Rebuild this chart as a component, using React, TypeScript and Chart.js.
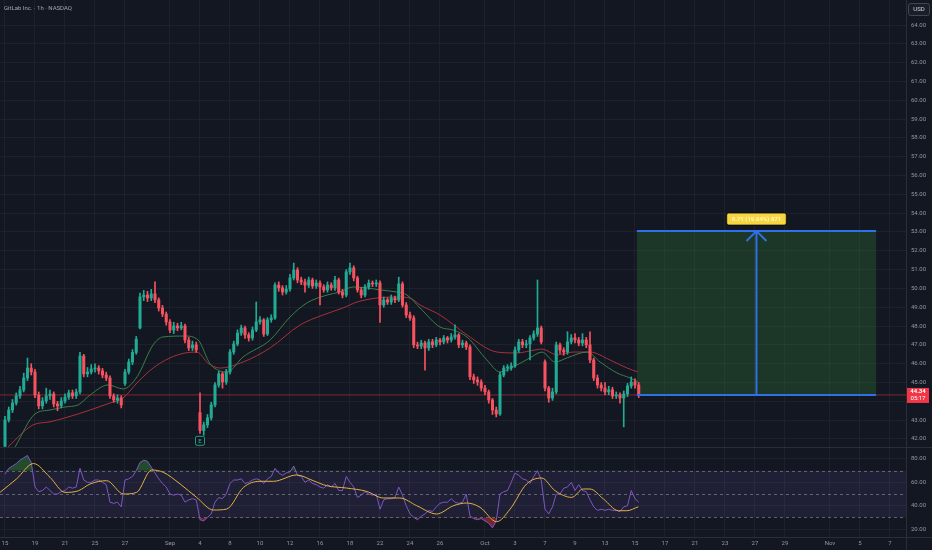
import { useEffect, useRef } from 'react';
import Chart from 'chart.js/auto';

// 1h candles, 4 per trading day, bar 0 = Aug 15
const opens = [41.62,43.01,43.54,43.91,44.29,44.61,45.24,45.77,45.56,44.34,
  43.76,44.02,44.29,44.39,43.86,43.76,44.02,44.23,44.45,44.29,
  44.50,46.41,45.46,45.56,45.72,45.77,45.62,45.40,45.24,44.29,
  44.07,44.18,44.95,45.56,46.09,46.60,47.90,49.55,49.65,49.49,
  49.71,49.39,48.96,48.64,48.22,47.79,48.01,47.90,48.01,47.26,
  46.84,47.00,43.40,42.45,42.75,43.12,43.81,44.87,45.46,45.03,
  45.56,46.62,47.05,47.63,47.90,47.53,47.37,47.79,48.22,48.33,
  47.58,48.33,48.43,50.18,50.03,49.81,49.97,50.56,50.98,50.45,
  50.34,50.18,50.45,50.13,50.29,50.08,49.92,50.18,50.03,50.45,
  49.81,49.65,50.88,51.09,50.56,49.92,49.65,50.08,50.29,50.24,
  50.29,49.12,49.39,49.28,49.49,49.39,50.24,49.12,48.59,48.43,
  47.00,46.94,47.10,46.84,47.16,47.00,47.26,47.16,47.37,47.26,
  47.42,47.53,47.00,47.10,46.89,45.30,45.14,45.03,44.71,44.50,
  44.07,43.54,43.33,45.40,45.77,45.77,45.88,46.73,47.16,47.00,
  47.05,47.37,47.58,47.90,46.10,44.71,44.18,44.50,47.00,46.73,
  46.62,47.16,47.37,47.26,47.10,47.26,47.00,46.20,45.24,44.87,
  44.71,44.50,44.61,44.29,44.34,44.18,44.39,44.82,45.03,44.87];

const highs = [43.20,43.70,44.10,44.45,44.80,45.50,46.30,46.00,45.70,44.50,
  44.20,44.70,44.60,44.50,44.00,44.20,44.40,44.60,44.60,44.65,
  46.60,46.50,45.80,45.95,46.00,45.90,45.75,45.55,45.35,44.40,
  44.35,44.30,45.70,46.25,46.75,47.45,49.75,49.90,49.85,49.95,
  50.35,49.50,49.10,48.75,48.35,48.20,48.15,48.20,48.10,47.40,
  47.20,47.15,44.45,42.90,43.30,43.95,45.00,45.60,45.55,45.70,
  46.75,47.20,47.80,48.05,48.00,47.65,47.95,49.28,48.50,48.40,
  48.45,48.60,50.30,50.35,50.15,50.15,50.75,51.35,51.10,50.60,
  50.50,50.60,50.55,50.45,50.40,50.20,50.35,50.30,50.65,50.55,
  49.95,51.00,51.35,51.20,50.65,50.05,50.20,50.45,50.40,50.45,
  50.40,49.55,49.50,49.65,49.60,50.60,50.35,49.25,48.75,48.55,
  47.15,47.25,47.20,47.30,47.30,47.40,47.35,47.50,47.45,47.60,
  48.06,47.60,47.25,47.20,47.00,45.45,45.30,45.15,44.85,44.60,
  44.15,43.70,45.55,45.90,45.95,46.05,46.90,47.30,47.30,47.25,
  47.50,47.75,50.45,48.00,46.20,44.80,44.70,47.15,47.10,46.85,
  47.70,47.55,47.60,47.40,47.60,47.40,47.70,46.30,45.40,45.00,
  45.00,44.80,44.75,44.50,44.45,44.55,44.95,45.30,45.20,45.00];

const lows = [41.50,42.90,43.40,43.80,44.15,44.50,45.10,45.40,44.20,43.60,
  43.60,43.90,44.10,43.70,43.50,43.65,43.90,44.10,44.15,44.15,
  44.40,45.30,45.30,45.45,45.55,45.45,45.25,45.10,44.15,43.95,
  43.90,43.65,44.85,45.45,45.95,46.50,47.85,49.35,49.30,49.35,
  49.25,48.80,48.50,48.05,47.65,47.60,47.75,47.80,47.10,46.70,
  46.70,46.60,42.30,42.20,42.60,43.00,43.70,44.75,44.70,44.90,
  45.45,46.50,46.95,47.50,47.35,47.20,47.25,47.70,48.10,47.45,
  47.50,48.20,48.35,49.85,49.65,49.70,49.85,50.45,50.30,50.20,
  49.80,50.05,50.00,50.00,49.12,49.80,49.80,49.90,49.90,49.70,
  49.50,49.55,50.75,50.40,49.80,49.50,49.55,49.95,50.10,50.10,
  48.20,49.00,49.15,49.15,49.25,49.30,49.00,48.45,48.30,46.85,
  46.80,46.80,45.65,46.70,46.85,46.90,47.00,47.05,47.10,47.15,
  47.30,46.85,46.85,46.75,45.15,44.95,44.85,44.55,44.35,43.90,
  43.30,43.17,43.25,45.30,45.60,45.65,45.80,46.60,46.85,46.85,
  46.20,47.25,47.45,47.05,44.55,43.95,44.05,44.40,46.55,46.45,
  46.50,47.05,47.10,46.95,46.95,46.85,46.05,45.10,44.70,44.55,
  44.35,44.35,44.15,44.15,43.90,42.64,44.25,44.70,44.70,44.20];

const closes = [43.01,43.54,43.91,44.29,44.61,45.24,45.77,45.56,44.34,43.76,
  44.02,44.29,44.39,43.86,43.76,44.02,44.23,44.45,44.29,44.50,
  46.41,45.46,45.56,45.72,45.77,45.62,45.40,45.24,44.29,44.07,
  44.18,43.81,45.56,46.09,46.60,47.30,49.55,49.65,49.49,49.71,
  49.39,48.96,48.64,48.22,47.79,48.01,47.90,48.01,47.26,46.84,
  47.00,46.73,42.45,42.75,43.12,43.81,44.87,45.46,45.03,45.56,
  46.62,47.05,47.63,47.90,47.53,47.37,47.79,48.22,48.33,47.58,
  48.33,48.43,50.18,50.03,49.81,49.97,50.56,50.98,50.45,50.34,
  50.18,50.45,50.13,50.29,50.08,49.92,50.18,50.03,50.45,49.81,
  49.65,50.88,51.09,50.56,49.92,49.65,50.08,50.29,50.24,50.29,
  49.12,49.39,49.28,49.49,49.39,50.24,49.12,48.59,48.43,47.00,
  46.94,47.10,46.84,47.16,47.00,47.26,47.16,47.37,47.26,47.42,
  47.53,47.00,47.10,46.89,45.30,45.14,45.03,44.71,44.50,44.07,
  43.54,43.33,45.40,45.77,45.77,45.88,46.73,47.16,47.00,47.05,
  47.37,47.58,47.90,47.16,44.71,44.18,44.50,47.00,46.73,46.62,
  47.16,47.37,47.26,47.10,47.26,47.00,46.20,45.24,44.87,44.71,
  44.50,44.61,44.29,44.34,44.18,44.39,44.82,45.03,44.87,44.34];

const rsiValues = [67,72,74,76,79,81,83,77,56,52,
  53,56,53,50,50,52,53,56,55,56,
  72,62,60,60,62,62,60,58,43,42,
  43,39,62,63,65,70,77,79,78,73,
  68,63,59,56,50,49,50,49,43,45,
  46,45,28,27,30,33,43,47,46,50,
  59,62,62,63,59,60,62,63,62,59,
  63,65,72,68,66,68,69,74,66,65,
  60,62,59,58,56,55,58,56,59,53,
  53,65,60,56,47,49,52,50,49,50,
  37,45,46,46,47,56,49,40,33,30,
  28,31,33,36,35,39,42,43,43,46,
  43,42,43,50,31,29,28,29,27,25,
  21,27,50,52,53,60,68,66,63,62,
  59,65,70,62,37,33,39,50,50,55,
  56,60,53,58,53,52,45,39,36,37,
  36,37,36,36,35,39,40,53,46,43];

// moving averages (bar position, value)
const greenMaBars = [2.7,8,12,16,19.5,22.7,27.5,31.5,35.2,39.5,42.1,48,51.5,54.7,57.3,59.2,63.5,70.7,76,80.5,85.9,89.3,92.8,96.5,100,104.5,107.2,110.7,116,119.5,123.2,128.5,132,135.5,140,143.2,146.7,149.9,155.2,158.7,163.2,166.7,168.8];
const greenMaValues = [41.58,43.33,43.54,43.70,43.81,44.34,44.87,44.66,45.30,47.00,47.42,47.47,47.26,45.99,45.62,45.56,46.36,47.26,48.48,49.23,49.65,49.81,50.08,50.03,49.92,49.81,49.65,48.96,47.95,47.79,47.42,46.20,45.56,45.83,46.31,46.62,46.09,46.31,46.62,46.09,45.51,45.24,45.03];
const redMaBars = [0.8,7.5,12,16,19.5,22.7,28,31.5,35.2,39.5,44,48,51.2,54.1,57.3,63.5,70.7,78.7,84.8,90.1,93.9,99.2,104.5,108,110.7,116,123.2,131.2,136.5,140,143.2,147.2,151.5,156,161.3,165.9,168.8];
const redMaValues = [41.58,42.75,42.91,43.12,43.33,43.54,43.91,44.18,44.98,45.77,46.31,46.57,46.62,46.04,45.77,46.09,46.84,48.06,48.59,48.96,49.28,49.49,49.55,49.49,49.12,48.59,47.53,46.62,46.57,46.68,46.78,46.47,46.62,46.62,46.20,45.77,45.56];
const rsiMaBars = [-1.3,3.1,7.6,12,16,19.6,22.7,27.1,31.6,35.1,39.1,42.2,46.7,51.1,55.6,59.1,63.6,68,71.6,77.8,82.2,85.8,91.1,96.4,100.9,105.3,109.8,115.1,119.6,123.1,126.7,131.1,134.7,139.1,143.1,146.7,151.1,154.2,156,159.6,163.6,165.8,168.9];
const rsiMaValues = [51.5,63,76.1,64.3,51.4,52.8,58.6,61.4,50,51.4,70.6,68.6,58.6,47.1,36.3,37.1,55.7,60.9,60.9,66.3,61.4,57.1,55.1,52.3,46.6,46.6,40,32.9,40,42.3,38.6,26.3,37.1,58.6,63.7,52.8,47.1,54.3,54.3,45.7,35.7,35.7,39.1];

const dateDays = [0,2,4,6,8,11,13,15,17,19,21,23,25,27,29,32,34,36,38,40,42,44,46,48,50,52,55,57,59];
const dateLabels = ['15','19','21','25','27','Sep','4','8','10','12','16','18','22','24','26','Oct','3','7','9','13','15','17','21','23','27','29','Nov','5','7'];
const priceTicks = [42,43,44,45,46,47,48,49,50,51,52,53,54,55,56,57,58,59,60,61,62,63,64];
const rsiTicks = [20,40,60,80];
const rsiLevels = [70,50,30];

const barsPerDay = 4;
const lastPrice = 44.34;
const countdown = '05:17';
const targetPrice = 53.05;
const targetLabel = '8.71 (19.64%) 871';
const targetStartBar = 168.5;
const targetEndBar = 232.3;
const earningsBar = 52;
const title = 'GitLab Inc. · 1h · NASDAQ';

const X_MIN = -1.33, X_MAX = 240.27;
const PRICE_MIN = 41.52, PRICE_MAX = 65.33;
const RSI_MIN = 13.2, RSI_MAX = 89.4;

const BG = '#131722';
const GRID = 'rgba(42,46,57,0.45)';
const AXIS_LINE = '#2a2e39';
const TEXT = '#9598a1';
const UP = '#22ab94';
const DOWN = '#f7525f';
const TAG_RED = '#f23645';
const BLUE = '#2f70e6';
const FONT = 'Roboto, "Noto Sans", sans-serif';

const idx = closes.map((_, i) => i);
const candleColors = idx.map(i => (closes[i] >= opens[i] ? UP : DOWN));
const dateTickValues = dateDays.map(d => d * barsPerDay);

const fitY = (s: any) => { s.width = 26; s.paddingTop = 0; s.paddingBottom = 0; };

const mainOverlay = {
  id: 'mainOverlay',
  beforeDatasetsDraw(chart: any) {
    const { ctx, scales: { x, y } } = chart;
    const x0 = x.getPixelForValue(targetStartBar), x1 = x.getPixelForValue(targetEndBar);
    const yT = y.getPixelForValue(targetPrice), yE = y.getPixelForValue(lastPrice);
    ctx.save();
    ctx.fillStyle = 'rgba(56,142,60,0.27)';
    ctx.fillRect(x0, yT, x1 - x0, yE - yT);
    ctx.restore();
  },
  afterDatasetsDraw(chart: any) {
    const { ctx, scales: { x, y } } = chart;
    const x0 = x.getPixelForValue(targetStartBar), x1 = x.getPixelForValue(targetEndBar);
    const xm = (x0 + x1) / 2;
    const yT = y.getPixelForValue(targetPrice), yE = y.getPixelForValue(lastPrice);
    ctx.save();
    ctx.strokeStyle = BLUE;
    ctx.lineWidth = 2;
    ctx.beginPath();
    ctx.moveTo(x0, yT); ctx.lineTo(x1, yT);
    ctx.moveTo(x0, yE); ctx.lineTo(x1, yE);
    ctx.moveTo(xm, yE); ctx.lineTo(xm, yT);
    ctx.moveTo(xm - 10, yT + 10); ctx.lineTo(xm, yT); ctx.lineTo(xm + 10, yT + 10);
    ctx.stroke();

    // target label
    ctx.font = `bold 6px ${FONT}`;
    const w = ctx.measureText(targetLabel).width + 10;
    ctx.fillStyle = '#f7d63e';
    ctx.strokeStyle = 'rgba(0,0,0,0.7)';
    ctx.lineWidth = 1;
    ctx.beginPath();
    ctx.roundRect(xm - w / 2, yT - 18, w, 12, 2);
    ctx.fill(); ctx.stroke();
    ctx.fillStyle = '#fff6c4';
    ctx.textAlign = 'center';
    ctx.textBaseline = 'middle';
    ctx.fillText(targetLabel, xm, yT - 12);

    // earnings marker
    const ex = x.getPixelForValue(earningsBar);
    const ey = y.getPixelForValue(lows[earningsBar]) + 3;
    ctx.fillStyle = BG;
    ctx.strokeStyle = '#1f9c84';
    ctx.beginPath();
    ctx.roundRect(ex - 4.5, ey, 9, 9, 1.5);
    ctx.fill(); ctx.stroke();
    ctx.fillStyle = '#2bb39a';
    ctx.font = `6px ${FONT}`;
    ctx.fillText('E', ex, ey + 5);
    ctx.restore();
  },
  afterDraw(chart: any) {
    const { ctx, scales: { y }, chartArea } = chart;
    ctx.save();
    ctx.font = `6px ${FONT}`;
    ctx.fillStyle = '#a3a6af';
    ctx.textAlign = 'left';
    ctx.textBaseline = 'middle';
    ctx.fillText(title, 4, 8);

    // axis line + pane separator
    ctx.strokeStyle = AXIS_LINE;
    ctx.lineWidth = 1;
    ctx.beginPath();
    ctx.moveTo(chartArea.right + 0.5, 0); ctx.lineTo(chartArea.right + 0.5, chart.height);
    ctx.moveTo(0, chart.height - 0.5); ctx.lineTo(chart.width, chart.height - 0.5);
    ctx.stroke();

    // currency box
    ctx.fillStyle = '#1a1e29';
    ctx.strokeStyle = '#434651';
    ctx.beginPath();
    ctx.roundRect(908.5, 3.5, 21, 12, 2);
    ctx.fill(); ctx.stroke();
    ctx.fillStyle = '#d1d4dc';
    ctx.textAlign = 'center';
    ctx.fillText('USD', 919, 9.8);

    // last price tag
    const py = y.getPixelForValue(lastPrice);
    ctx.fillStyle = TAG_RED;
    ctx.fillRect(907, py - 7, 22, 15);
    ctx.fillStyle = '#ffffff';
    ctx.font = `bold 6px ${FONT}`;
    ctx.fillText(lastPrice.toFixed(2), 918, py - 3);
    ctx.font = `6px ${FONT}`;
    ctx.fillText(countdown, 918, py + 4);
    ctx.restore();
  },
};

const rsiOverlay = {
  id: 'rsiOverlay',
  beforeDatasetsDraw(chart: any) {
    const { ctx, scales: { y }, chartArea } = chart;
    ctx.save();
    ctx.fillStyle = 'rgba(126,87,194,0.12)';
    const yTop = y.getPixelForValue(rsiLevels[0]);
    const yBot = y.getPixelForValue(rsiLevels[2]);
    ctx.fillRect(chartArea.left, yTop, chartArea.right - chartArea.left, yBot - yTop);
    ctx.strokeStyle = 'rgba(120,123,134,0.75)';
    ctx.lineWidth = 1;
    ctx.setLineDash([3, 3]);
    rsiLevels.forEach(v => {
      const yy = Math.round(y.getPixelForValue(v)) + 0.5;
      ctx.beginPath();
      ctx.moveTo(chartArea.left, yy);
      ctx.lineTo(chartArea.right, yy);
      ctx.stroke();
    });
    ctx.restore();
  },
  afterDraw(chart: any) {
    const { ctx, chartArea } = chart;
    ctx.save();
    ctx.strokeStyle = AXIS_LINE;
    ctx.lineWidth = 1;
    ctx.beginPath();
    ctx.moveTo(chartArea.right + 0.5, 0); ctx.lineTo(chartArea.right + 0.5, chart.height);
    ctx.moveTo(0, chartArea.bottom + 0.5); ctx.lineTo(chart.width, chartArea.bottom + 0.5);
    ctx.stroke();
    ctx.restore();
  },
};

const xBase = (showLabels: boolean) => ({
  type: 'linear',
  min: X_MIN,
  max: X_MAX,
  offset: false,
  afterBuildTicks: (s: any) => { s.ticks = dateTickValues.map(v => ({ value: v })); },
  afterFit: (s: any) => { s.height = showLabels ? 13 : 0; s.paddingLeft = 0; s.paddingRight = 0; },
  ticks: {
    display: showLabels,
    autoSkip: false,
    maxRotation: 0,
    padding: 3,
    color: TEXT,
    font: { family: FONT, size: 6 },
    callback: (_v: any, i: number) => dateLabels[i] ?? '',
  },
  grid: { color: GRID, drawTicks: false, offset: false },
  border: { display: false },
});

export default function App() {
  const mainRef = useRef<HTMLCanvasElement | null>(null);
  const rsiRef = useRef<HTMLCanvasElement | null>(null);

  useEffect(() => {
    let main: Chart | null = null;
    let rsi: Chart | null = null;

    if (mainRef.current) {
      main = new Chart(mainRef.current, {
        type: 'bar',
        data: {
          datasets: [
            {
              type: 'line',
              data: [{ x: X_MIN, y: lastPrice }, { x: X_MAX, y: lastPrice }],
              borderColor: 'rgba(242,54,69,0.5)',
              borderWidth: 1,
              pointRadius: 0,
              order: 5,
            },
            {
              type: 'line',
              data: redMaBars.map((b, k) => ({ x: b, y: redMaValues[k] })),
              borderColor: '#a8323b',
              borderWidth: 1,
              pointRadius: 0,
              cubicInterpolationMode: 'monotone',
              order: 4,
            },
            {
              type: 'line',
              data: greenMaBars.map((b, k) => ({ x: b, y: greenMaValues[k] })),
              borderColor: '#3a7f49',
              borderWidth: 1,
              pointRadius: 0,
              cubicInterpolationMode: 'monotone',
              order: 3,
            },
            {
              type: 'bar',
              data: idx.map(i => ({ x: i, y: [lows[i], highs[i]] })),
              backgroundColor: candleColors,
              barThickness: 1,
              grouped: false,
              order: 2,
            },
            {
              type: 'bar',
              data: idx.map(i => ({ x: i, y: [opens[i], closes[i]] })),
              backgroundColor: candleColors,
              barThickness: 2.4,
              minBarLength: 1,
              grouped: false,
              order: 1,
            },
          ],
        } as any,
        options: {
          animation: false,
          responsive: true,
          maintainAspectRatio: false,
          events: [],
          layout: { padding: 0 },
          plugins: { legend: { display: false }, tooltip: { enabled: false } },
          scales: {
            x: xBase(false),
            y: {
              type: 'linear',
              position: 'right',
              min: PRICE_MIN,
              max: PRICE_MAX,
              beginAtZero: false,
              afterBuildTicks: (s: any) => { s.ticks = priceTicks.map(v => ({ value: v })); },
              afterFit: fitY,
              ticks: {
                autoSkip: false,
                padding: 5,
                color: TEXT,
                font: { family: FONT, size: 6 },
                callback: (v: any) => Number(v).toFixed(2),
              },
              grid: { color: GRID, drawTicks: false },
              border: { display: false },
            },
          },
        } as any,
        plugins: [mainOverlay],
      });
    }

    if (rsiRef.current) {
      const rsiPoints = rsiValues.map((v, i) => ({ x: i, y: v }));
      rsi = new Chart(rsiRef.current, {
        type: 'line',
        data: {
          datasets: [
            {
              data: rsiMaBars.map((b, k) => ({ x: b, y: rsiMaValues[k] })),
              borderColor: '#e3b341',
              borderWidth: 1,
              pointRadius: 0,
              cubicInterpolationMode: 'monotone',
              order: 0,
            },
            {
              data: rsiPoints,
              borderColor: '#7e57c2',
              borderWidth: 1,
              pointRadius: 0,
              fill: { target: { value: 70 }, above: 'rgba(56,142,60,0.45)', below: 'rgba(0,0,0,0)' },
              order: 1,
            },
            {
              data: rsiPoints,
              borderColor: 'rgba(0,0,0,0)',
              borderWidth: 0,
              pointRadius: 0,
              fill: { target: { value: 30 }, above: 'rgba(0,0,0,0)', below: 'rgba(242,54,69,0.45)' },
              order: 2,
            },
          ],
        } as any,
        options: {
          animation: false,
          responsive: true,
          maintainAspectRatio: false,
          events: [],
          layout: { padding: 0 },
          plugins: { legend: { display: false }, tooltip: { enabled: false } },
          scales: {
            x: xBase(true),
            y: {
              type: 'linear',
              position: 'right',
              min: RSI_MIN,
              max: RSI_MAX,
              afterBuildTicks: (s: any) => { s.ticks = rsiTicks.map(v => ({ value: v })); },
              afterFit: fitY,
              ticks: {
                autoSkip: false,
                padding: 5,
                color: TEXT,
                font: { family: FONT, size: 6 },
                callback: (v: any) => Number(v).toFixed(2),
              },
              grid: { color: GRID, drawTicks: false },
              border: { display: false },
            },
          },
        } as any,
        plugins: [rsiOverlay],
      });
    }

    return () => {
      if (main) main.destroy();
      if (rsi) rsi.destroy();
    };
  }, []);

  return (
    <div style={{ position: 'fixed', left: 0, top: 0, width: 932, height: 550, background: BG }}>
      <div style={{ position: 'absolute', left: 0, top: 0, width: 932, height: 448 }}>
        <canvas ref={mainRef} />
      </div>
      <div style={{ position: 'absolute', left: 0, top: 448, width: 932, height: 102 }}>
        <canvas ref={rsiRef} />
      </div>
    </div>
  );
}
